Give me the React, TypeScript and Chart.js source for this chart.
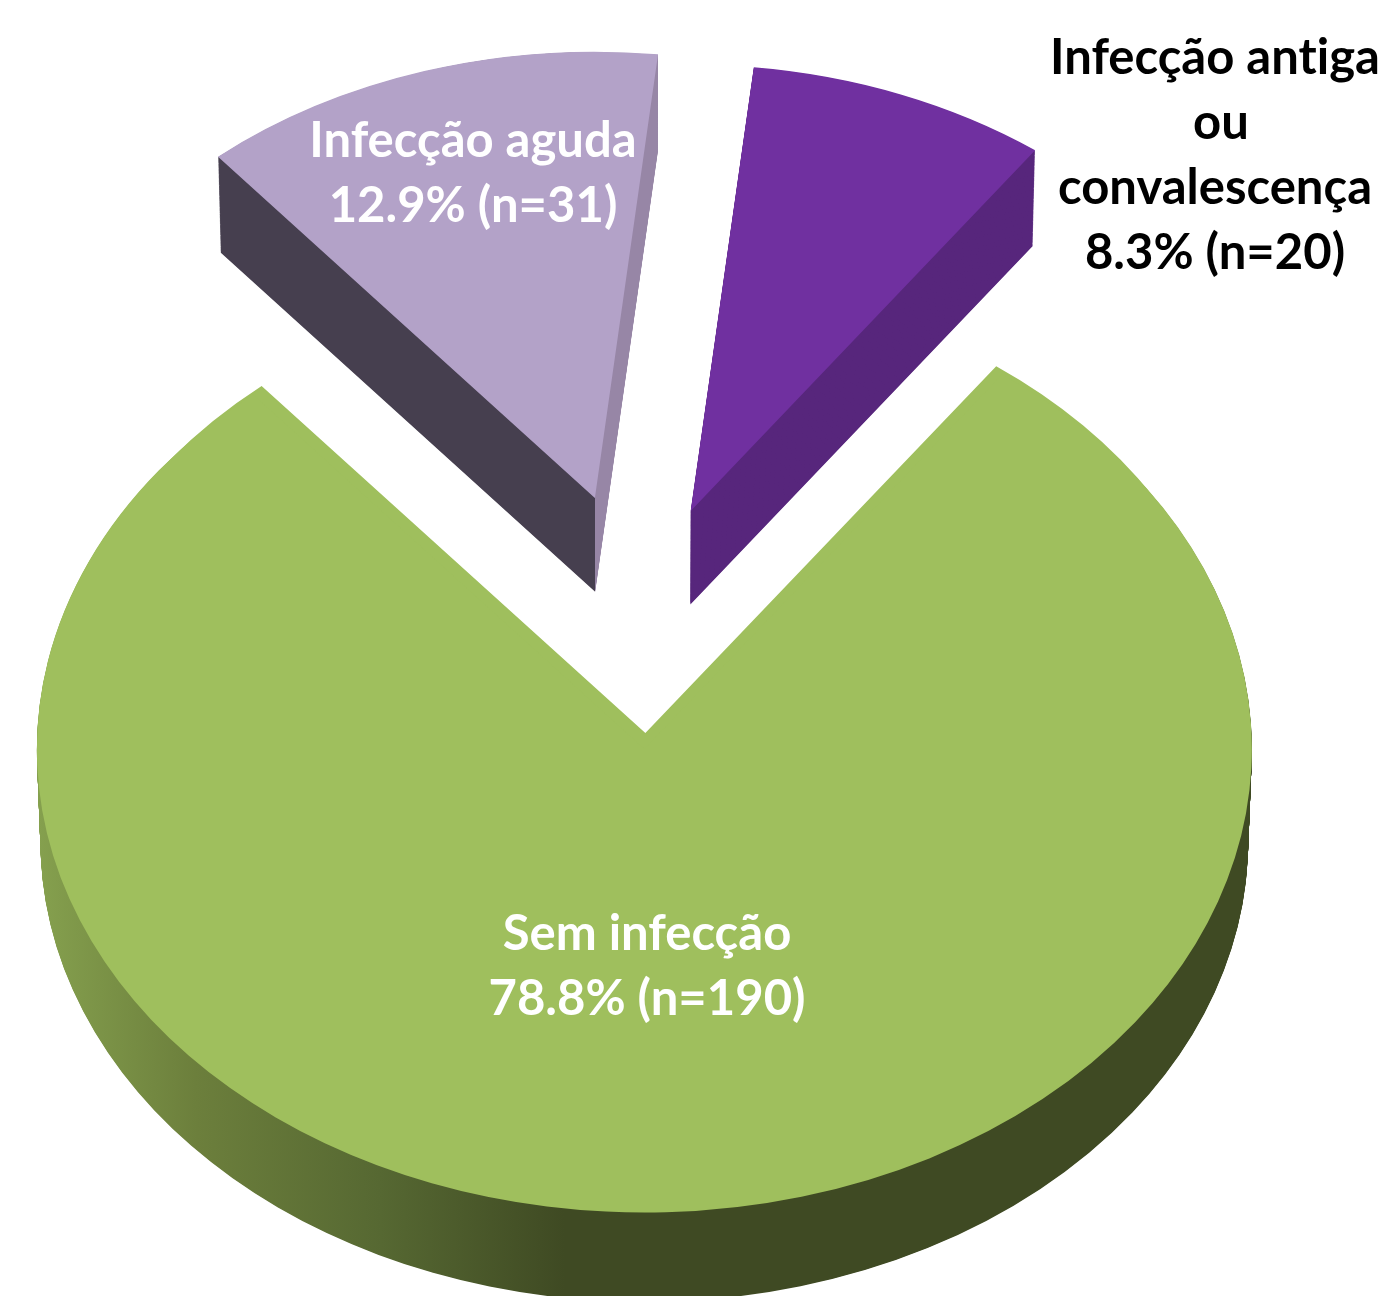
import React, { useEffect, useRef } from "react";
import { Chart, registerables } from "chart.js";

Chart.register(...registerables);

const categories = ["Infecção antiga ou convalescença", "Sem infecção", "Infecção aguda"];
const counts = [20, 190, 31];
const topColors = ["#7030A0", "#9FBF5D", "#B3A2C8"];
const percentLabels = ["8.3% (n=20)", "78.8% (n=190)", "12.9% (n=31)"];
const labelLines = [
  ["Infecção antiga", "ou", "convalescença", percentLabels[0]],
  ["Sem infecção", percentLabels[1]],
  ["Infecção aguda", percentLabels[2]],
];
const labelColors = ["#000000", "#FFFFFF", "#FFFFFF"];

// layout constants
const W = 1390;
const H = 1296;
const TILT = 0.763;
const DEPTH = 93;
const SHRINK = 0.006;
const OUTER_RADII = [585, 607.5, 585];
const OFFSETS = [562, 724, 619];
const START_ANGLE = 6.2;
const GREEN_NUDGE = 2;
const NOTCH_RADIUS = 595;
const NOTCH_LIFT = 21;
const LABEL_FONT = '700 49px Lato, "Open Sans", sans-serif';
const LABEL_PITCH = 65;
const LABEL_ANCHORS = [
  { x: 1215, y: 74 },
  { x: 647, y: 950 },
  { x: 473, y: 157 },
];
const OU_SHIFT = 6;

function sideFill(ctx: CanvasRenderingContext2D, index: number, arc: any) {
  if (index === 0) return "#57267C";
  if (index === 2) {
    const g = ctx.createLinearGradient(arc.x - 100, 0, arc.x + 100, 0);
    g.addColorStop(0, "#463F4F");
    g.addColorStop(0.5, "#463F4F");
    g.addColorStop(0.5, "#9786A6");
    g.addColorStop(1, "#9786A6");
    return g;
  }
  const g = ctx.createLinearGradient(arc.x - 608, 0, arc.x - 80, 0);
  g.addColorStop(0, "#85A04E");
  g.addColorStop(0.3, "#6C7F3C");
  g.addColorStop(0.65, "#566832");
  g.addColorStop(1, "#3F4A23");
  return g;
}

// ArcElement enlarges an offset arc by (offset / 4) * (1 - sin(circumference))
// and narrows its angle by that amount / (PI * R); undo both so that the
// slices keep the sizes and the angles of their values.
function radiusGrowth(arc: any, i: number) {
  const fix = 1 - Math.sin(Math.min(Math.PI, arc.circumference || 0));
  return (OFFSETS[i] / 4) * fix;
}

const pie3d = {
  id: "pie3d",
  afterDatasetsUpdate(chart: any) {
    chart.getDatasetMeta(0).data.forEach((arc: any, i: number) => {
      const grow = radiusGrowth(arc, i);
      arc.outerRadius = OUTER_RADII[i] - grow;
      const delta = grow / (Math.PI * OUTER_RADII[i]);
      arc.startAngle -= delta / 2;
      arc.endAngle += delta / 2;
      if (i === 1) arc.x -= GREEN_NUDGE;
    });
  },
  beforeDatasetsDraw(chart: any) {
    const ctx = chart.ctx as CanvasRenderingContext2D;
    const arcs = chart.getDatasetMeta(0).data;
    ctx.save();
    const cy = arcs[0].y;
    ctx.translate(0, cy);
    ctx.scale(1, TILT);
    ctx.translate(0, -cy);
    const flatDepth = DEPTH / TILT;
    arcs.forEach((arc: any, i: number) => {
      const saved = arc.options;
      arc.options = { ...saved, backgroundColor: sideFill(ctx, i, arc) };
      for (let t = flatDepth; t >= 0; t -= 1) {
        const s = 1 - (SHRINK * t) / flatDepth;
        ctx.save();
        ctx.translate(arc.x, arc.y + t);
        ctx.scale(s, s);
        ctx.translate(-arc.x, -arc.y);
        arc.draw(ctx);
        ctx.restore();
      }
      arc.options = saved;
    });
    // inner part of the large slice: its tip sits higher, as in a perspective view
    const green = arcs[1];
    const r = green.outerRadius;
    green.outerRadius = NOTCH_RADIUS - radiusGrowth(green, 1);
    ctx.save();
    ctx.translate(1, -NOTCH_LIFT);
    green.draw(ctx);
    ctx.restore();
    green.outerRadius = r;
  },
  afterDatasetsDraw(chart: any) {
    chart.ctx.restore();
  },
  afterDraw(chart: any) {
    const ctx = chart.ctx as CanvasRenderingContext2D;
    ctx.save();
    ctx.font = LABEL_FONT;
    (ctx as any).letterSpacing = "0.01px";
    ctx.textAlign = "center";
    ctx.textBaseline = "alphabetic";
    labelLines.forEach((lines, i) => {
      ctx.fillStyle = labelColors[i];
      lines.forEach((line, k) => {
        const dx = line === "ou" ? OU_SHIFT : 0;
        ctx.fillText(line, LABEL_ANCHORS[i].x + dx, LABEL_ANCHORS[i].y + k * LABEL_PITCH);
      });
    });
    ctx.restore();
  },
};

export default function App() {
  const ref = useRef<HTMLCanvasElement | null>(null);
  useEffect(() => {
    if (!ref.current) return;
    const chart = new Chart(ref.current, {
      type: "pie",
      data: {
        labels: categories,
        datasets: [
          {
            data: counts,
            backgroundColor: topColors,
            borderWidth: 0,
            offset: OFFSETS,
            clip: false,
          } as any,
        ],
      },
      options: {
        responsive: false,
        animation: false,
        rotation: START_ANGLE,
        radius: OUTER_RADII[1],
        events: [],
        layout: { padding: { right: 110, bottom: 74 } },
        plugins: { legend: { display: false }, tooltip: { enabled: false } },
      } as any,
      plugins: [pie3d],
    });
    return () => chart.destroy();
  }, []);
  return (
    <canvas
      ref={ref}
      width={W}
      height={H}
      style={{ position: "absolute", left: 0, top: 0, width: W, height: H, display: "block" }}
    />
  );
}
